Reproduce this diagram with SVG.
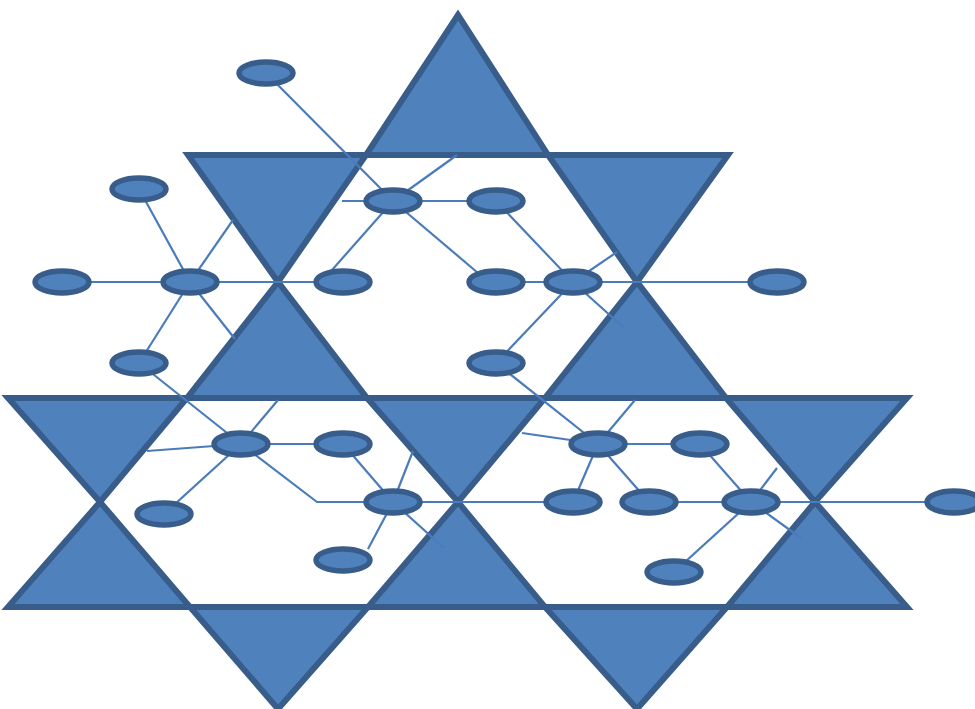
<svg xmlns="http://www.w3.org/2000/svg" width="975" height="709" viewBox="0 0 975 709">
<style>
.tri{fill:#4f81bd;stroke:#385d8a;stroke-width:6;stroke-linejoin:miter}
.ln{fill:none;stroke:#4a7cba;stroke-width:2.2}
.nd{fill:#4f81bd;stroke:#385d8a;stroke-width:5.5}
</style>
<rect width="975" height="709" fill="#ffffff"/>
<g id="triangles">
<polygon class="tri" points="458,15 366,155 548,155"/>
<polygon class="tri" points="188,155 366,155 278,282"/>
<polygon class="tri" points="548,155 728,155 637,282"/>
<polygon class="tri" points="278,282 187,398 367,398"/>
<polygon class="tri" points="637,282 545,398 726,398"/>
<polygon class="tri" points="8,398 187,398 100,502"/>
<polygon class="tri" points="367,398 545,398 458,502"/>
<polygon class="tri" points="726,398 907,398 815,502"/>
<polygon class="tri" points="100,502 8,607 190,607"/>
<polygon class="tri" points="458,502 368,607 545,607"/>
<polygon class="tri" points="815,502 727,607 907,607"/>
<polygon class="tri" points="190,607 368,607 278,709"/>
<polygon class="tri" points="545,607 727,607 637,709"/>
</g>
<g id="connectors">
<line class="ln" x1="266" y1="73" x2="393" y2="201"/>
<line class="ln" x1="393" y1="201" x2="457" y2="155"/>
<line class="ln" x1="342" y1="201" x2="393" y2="201"/>
<line class="ln" x1="393" y1="201" x2="496" y2="201"/>
<line class="ln" x1="393" y1="201" x2="332" y2="270"/>
<line class="ln" x1="393" y1="201" x2="478" y2="273"/>
<line class="ln" x1="496" y1="201" x2="573" y2="282"/>
<line class="ln" x1="573" y1="282" x2="617" y2="252"/>
<line class="ln" x1="573" y1="282" x2="623" y2="327"/>
<line class="ln" x1="190" y1="282" x2="343" y2="282"/>
<line class="ln" x1="496" y1="282" x2="777" y2="282"/>
<line class="ln" x1="62" y1="282" x2="190" y2="282"/>
<line class="ln" x1="139" y1="189" x2="190" y2="282"/>
<line class="ln" x1="190" y1="282" x2="233" y2="220"/>
<line class="ln" x1="190" y1="282" x2="139" y2="363"/>
<line class="ln" x1="190" y1="282" x2="235" y2="339"/>
<line class="ln" x1="139" y1="363" x2="241" y2="444"/>
<line class="ln" x1="241" y1="444" x2="278" y2="400"/>
<line class="ln" x1="147" y1="451" x2="241" y2="444"/>
<line class="ln" x1="241" y1="444" x2="343" y2="444"/>
<line class="ln" x1="241" y1="444" x2="164" y2="514"/>
<polyline class="ln" points="241,444 317,502 393,502"/>
<line class="ln" x1="343" y1="444" x2="393" y2="502"/>
<line class="ln" x1="393" y1="502" x2="413" y2="451"/>
<line class="ln" x1="393" y1="502" x2="368" y2="549"/>
<line class="ln" x1="393" y1="502" x2="444" y2="548"/>
<line class="ln" x1="393" y1="502" x2="573" y2="502"/>
<line class="ln" x1="496" y1="363" x2="573" y2="282"/>
<line class="ln" x1="496" y1="363" x2="598" y2="444"/>
<line class="ln" x1="598" y1="444" x2="635" y2="400"/>
<line class="ln" x1="522" y1="433" x2="598" y2="444"/>
<line class="ln" x1="598" y1="444" x2="700" y2="444"/>
<line class="ln" x1="598" y1="444" x2="573" y2="502"/>
<line class="ln" x1="598" y1="444" x2="649" y2="502"/>
<line class="ln" x1="700" y1="444" x2="751" y2="502"/>
<line class="ln" x1="751" y1="502" x2="777" y2="468"/>
<line class="ln" x1="649" y1="502" x2="954" y2="502"/>
<line class="ln" x1="751" y1="502" x2="801" y2="538"/>
<line class="ln" x1="751" y1="502" x2="674" y2="572"/>
</g>
<g id="n1"><ellipse class="nd" cx="266" cy="73" rx="27" ry="11"/></g>
<g id="n2"><ellipse class="nd" cx="139" cy="189" rx="27" ry="11"/></g>
<g id="n3"><ellipse class="nd" cx="393" cy="201" rx="27" ry="11"/></g>
<g id="n4"><ellipse class="nd" cx="496" cy="201" rx="27" ry="11"/></g>
<g id="n5"><ellipse class="nd" cx="62" cy="282" rx="27" ry="11"/></g>
<g id="n6"><ellipse class="nd" cx="190" cy="282" rx="27" ry="11"/></g>
<g id="n7"><ellipse class="nd" cx="343" cy="282" rx="27" ry="11"/></g>
<g id="n8"><ellipse class="nd" cx="496" cy="282" rx="27" ry="11"/></g>
<g id="n9"><ellipse class="nd" cx="573" cy="282" rx="27" ry="11"/></g>
<g id="n10"><ellipse class="nd" cx="777" cy="282" rx="27" ry="11"/></g>
<g id="n11"><ellipse class="nd" cx="139" cy="363" rx="27" ry="11"/></g>
<g id="n12"><ellipse class="nd" cx="496" cy="363" rx="27" ry="11"/></g>
<g id="n13"><ellipse class="nd" cx="241" cy="444" rx="27" ry="11"/></g>
<g id="n14"><ellipse class="nd" cx="343" cy="444" rx="27" ry="11"/></g>
<g id="n15"><ellipse class="nd" cx="598" cy="444" rx="27" ry="11"/></g>
<g id="n16"><ellipse class="nd" cx="700" cy="444" rx="27" ry="11"/></g>
<g id="n17"><ellipse class="nd" cx="164" cy="514" rx="27" ry="11"/></g>
<g id="n18"><ellipse class="nd" cx="393" cy="502" rx="27" ry="11"/></g>
<g id="n19"><ellipse class="nd" cx="573" cy="502" rx="27" ry="11"/></g>
<g id="n20"><ellipse class="nd" cx="649" cy="502" rx="27" ry="11"/></g>
<g id="n21"><ellipse class="nd" cx="751" cy="502" rx="27" ry="11"/></g>
<g id="n22"><ellipse class="nd" cx="954" cy="502" rx="27" ry="11"/></g>
<g id="n23"><ellipse class="nd" cx="343" cy="560" rx="27" ry="11"/></g>
<g id="n24"><ellipse class="nd" cx="674" cy="572" rx="27" ry="11"/></g>
</svg>
